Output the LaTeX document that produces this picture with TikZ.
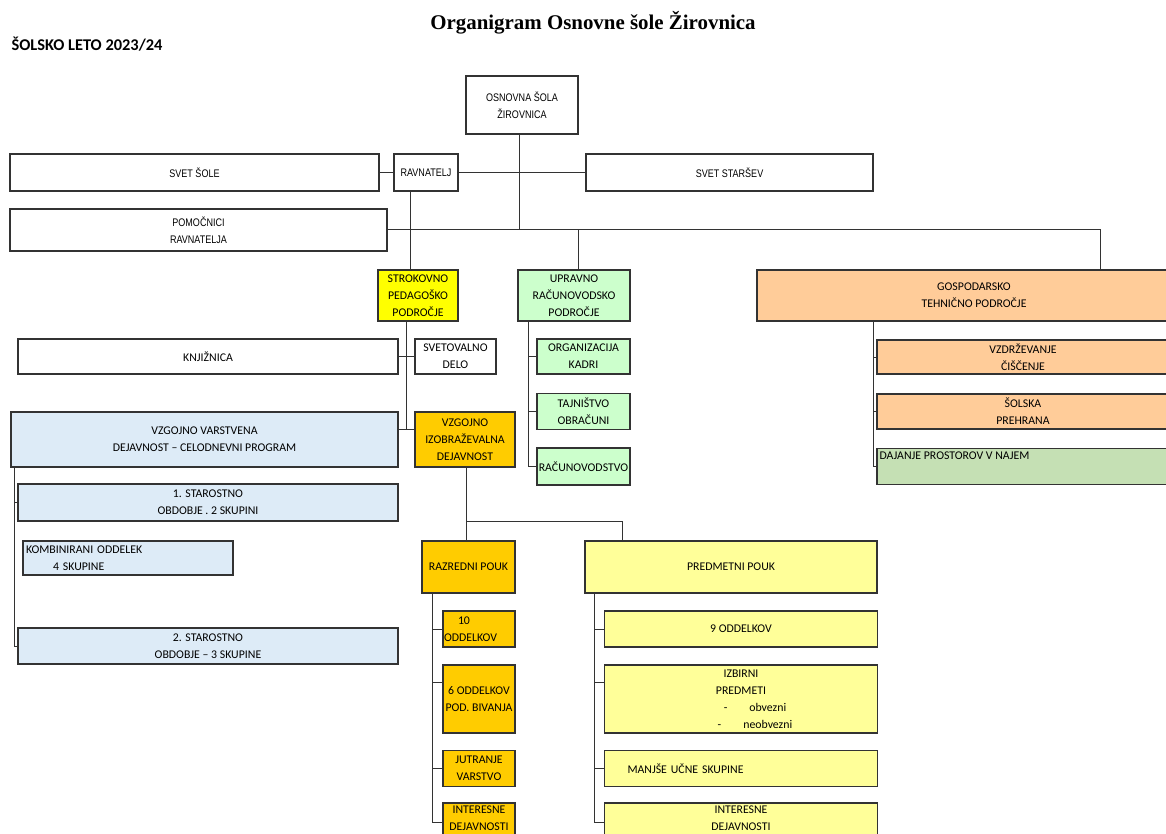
\documentclass[tikz,border=0pt]{standalone}
\usepackage{fontspec}
\setmainfont{Carlito}
\newfontfamily\narrowfont[FakeStretch=0.82]{Liberation Sans}
\newfontfamily\titlefont{Liberation Serif}

\definecolor{strokyellow}{HTML}{FFFF00}
\definecolor{gold}{HTML}{FFCC00}
\definecolor{mint}{HTML}{CCFFCC}
\definecolor{peach}{HTML}{FFCC99}
\definecolor{paleyellow}{HTML}{FFFF99}
\definecolor{skyblue}{HTML}{DDEBF7}
\definecolor{leafgreen}{HTML}{C5E0B4}

\newcommand{\boxfont}{\fontsize{11.8}{17}\selectfont}
\newcommand{\topfont}{\narrowfont\fontsize{11}{16.7}\selectfont}

\begin{document}
\begin{tikzpicture}[x=1pt,y=-1pt,
  box/.style={draw=black!80, line width=1.2pt, inner sep=1pt, align=center, font=\boxfont},
  topbox/.style={box, font=\topfont},
  conn/.style={draw=black!80, line width=1pt},
  sz/.style 2 args={minimum width=#1, minimum height=#2}]

\useasboundingbox (0,0) rectangle (1166,834);
\clip (0,0) rectangle (1166,834);

\node [anchor=base, font=\titlefont\bfseries\fontsize{20.9}{24}\selectfont] (title) at (593,30) {Organigram Osnovne šole Žirovnica};
\node [anchor=base west, font=\bfseries\fontsize{16.4}{19}\selectfont] (leto) at (8,51) {ŠOLSKO LETO 2023/24};

\node [topbox, sz={112}{58}] (osnovna) at (522,105) {OSNOVNA ŠOLA\\ŽIROVNICA};
\node [topbox, sz={369}{37}] (svetsole) at (194.5,172.5) {SVET ŠOLE};
\node [topbox, sz={64}{37}] (ravnatelj) at (426,172.5) {RAVNATELJ};
\node [topbox, sz={287}{37}] (svetstarsev) at (729.5,172.5) {SVET STARŠEV};
\node [topbox, sz={377}{42}] (pomocnici) at (198.5,230) {POMOČNICI\\RAVNATELJA};

\node [box, fill=strokyellow, sz={80}{51}] (strokovno) at (418,295.5) {STROKOVNO\\PEDAGOŠKO\\PODROČJE};
\node [box, fill=mint, sz={112}{51}] (upravno) at (574,295.5) {UPRAVNO\\RAČUNOVODSKO\\PODROČJE};
\node [box, fill=peach, sz={434}{51}] (gospodarsko) at (974,295.5) {GOSPODARSKO\\TEHNIČNO PODROČJE};

\node [box, sz={380}{35}] (knjiznica) at (208,356.5) {KNJIŽNICA};
\node [box, sz={81}{35}] (svetovalno) at (455.5,356.5) {SVETOVALNO\\DELO};
\node [box, fill=skyblue, sz={387}{55}] (vvarstvena) at (204.5,439.5) {VZGOJNO VARSTVENA\\DEJAVNOST – CELODNEVNI PROGRAM};
\node [box, fill=gold, sz={100}{55}] (vizob) at (465,439.5) {VZGOJNO\\IZOBRAŽEVALNA\\DEJAVNOST};

\node [box, fill=skyblue, sz={380}{37}] (star1) at (208,502.5) {1. STAROSTNO\\OBDOBJE . 2 SKUPINI};
\node [box, fill=skyblue, sz={210}{34}, align=left, text width=204, inner xsep=3pt] (kombin) at (128,558) {KOMBINIRANI ODDELEK\\\hspace*{27pt}4 SKUPINE};
\node [box, fill=skyblue, sz={380}{36}] (star2) at (208,646) {2. STAROSTNO\\OBDOBJE – 3 SKUPINE};

\node [box, fill=gold, sz={93}{52}] (razredni) at (468.5,567) {RAZREDNI POUK};
\node [box, fill=paleyellow, sz={292}{52}] (predmetni) at (731,567) {PREDMETNI POUK};

\node [box, fill=gold, sz={72}{36}, align=left, text width=70] (r10) at (479,629) {\hspace*{14pt}10\\ODDELKOV};
\node [box, fill=gold, sz={72}{68}] (r6) at (479,699) {6 ODDELKOV\\POD. BIVANJA};
\node [box, fill=gold, sz={72}{36}] (rjut) at (479,768.5) {JUTRANJE\\VARSTVO};
\node [box, fill=gold, sz={72}{38}, text depth=7pt] (rint) at (479,822) {INTERESNE\\DEJAVNOSTI};

\node [box, fill=paleyellow, sz={273}{36}] (p9) at (741,629) {9 ODDELKOV};
\node [box, fill=paleyellow, sz={273}{68}] (pizb) at (741,699) {IZBIRNI\\PREDMETI\\\hspace*{28pt}-\hspace{22pt}obvezni\\\hspace*{28pt}-\hspace{22pt}neobvezni};
\node [box, fill=paleyellow, sz={273}{36}, align=left, text width=271] (pmanj) at (741,768.5) {\hspace*{22pt}MANJŠE UČNE SKUPINE};
\node [box, fill=paleyellow, sz={273}{38}, text depth=7pt] (pint) at (741,822) {INTERESNE\\DEJAVNOSTI};

\node [box, fill=mint, sz={93}{35}] (org) at (583.5,356.5) {ORGANIZACIJA\\KADRI};
\node [box, fill=mint, sz={93}{36}] (taj) at (583.5,411.5) {TAJNIŠTVO\\OBRAČUNI};
\node [box, fill=mint, sz={93}{37}] (rac) at (583.5,466.5) {RAČUNOVODSTVO};

\node [box, fill=peach, sz={292}{34}] (vzd) at (1023,357) {VZDRŽEVANJE\\ČIŠČENJE};
\node [box, fill=peach, sz={292}{35}] (prehr) at (1023,411.5) {ŠOLSKA\\PREHRANA};
\node [box, fill=leafgreen, sz={292}{36},
  label={[font=\boxfont, anchor=north west, inner xsep=3pt, inner ysep=4pt]north west:DAJANJE PROSTOROV V NAJEM}] (dajanje) at (1023,466.5) {};

\coordinate (bus) at (519,230);
\coordinate (gtop) at (1100,230);
\coordinate (utop) at (578,230);
\coordinate (rdrop) at (410,230);
\coordinate (sjoin) at (406,429);
\coordinate (vjoin) at (466,521);
\coordinate (pjoin) at (622,521);
\coordinate (bspine) at (14,0);
\coordinate (rspine) at (432,0);
\coordinate (pspine) at (594,0);
\coordinate (uspine) at (528,0);
\coordinate (gspine) at (873,0);
\coordinate (r6tick) at ([yshift=17pt]r6.west);
\coordinate (pizbtick) at ([yshift=17pt]pizb.west);

\draw [conn] (svetsole) -- (ravnatelj);
\draw [conn] (ravnatelj) -- (svetstarsev);
\draw [conn] (osnovna.south -| bus) -- (bus);
\draw [conn] (pomocnici.east) -- (gtop) -- (gtop |- gospodarsko.north);
\draw [conn] (ravnatelj.south -| rdrop) -- (rdrop |- strokovno.north);
\draw [conn] (utop) -- (utop |- upravno.north);

\draw [conn] (strokovno.south -| sjoin) -- (sjoin);
\draw [conn] (knjiznica) -- (svetovalno);
\draw [conn] (vvarstvena.east |- sjoin) -- (vizob.west |- sjoin);

\draw [conn] (vvarstvena.south -| bspine) |- (star2.west);
\draw [conn] (bspine |- star1.west) -- (star1.west);

\draw [conn] (vizob.south -| vjoin) -- (vjoin) -- (pjoin) -- (pjoin |- predmetni.north);
\draw [conn] (vjoin) -- (vjoin |- razredni.north);

\draw [conn] (razredni.south -| rspine) |- (rint.west);
\foreach \n in {r10,rjut}
  \draw [conn] (rspine |- \n.west) -- (\n.west);
\draw [conn] (rspine |- r6tick) -- (r6tick);

\draw [conn] (predmetni.south -| pspine) |- (pint.west);
\foreach \n in {p9,pmanj}
  \draw [conn] (pspine |- \n.west) -- (\n.west);
\draw [conn] (pspine |- pizbtick) -- (pizbtick);

\draw [conn] (upravno.south -| uspine) |- (rac.west);
\foreach \n in {org,taj}
  \draw [conn] (uspine |- \n.west) -- (\n.west);

\draw [conn] (gospodarsko.south -| gspine) |- (dajanje.west);
\foreach \n in {vzd,prehr}
  \draw [conn] (gspine |- \n.west) -- (\n.west);

\end{tikzpicture}
\end{document}
